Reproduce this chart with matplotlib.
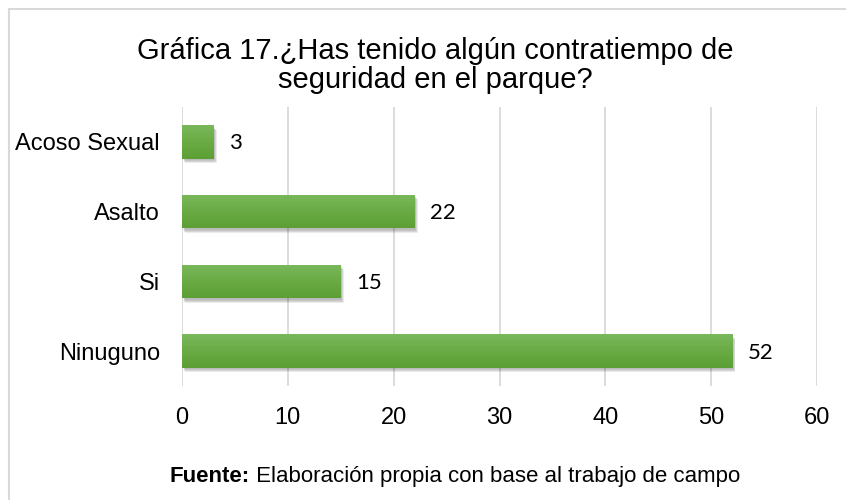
import matplotlib
matplotlib.use("Agg")
import matplotlib.pyplot as plt
import numpy as np
from matplotlib.patches import Rectangle
from matplotlib.colors import LinearSegmentedColormap
import matplotlib.transforms as mtransforms

categories = ["Ninuguno", "Si", "Asalto", "Acoso Sexual"]
values = [52, 15, 22, 3]
x_ticks = [0, 10, 20, 30, 40, 50, 60]

title_lines = ["Gráfica 17.¿Has tenido algún contratiempo de",
               "seguridad en el parque?"]
source_bold = "Fuente:"
source_rest = " Elaboración propia con base al trabajo de campo"

plt.rcParams["font.family"] = ["Liberation Sans", "DejaVu Sans"]

W, H = 846, 500
fig = plt.figure(figsize=(W / 100, H / 100), dpi=100)
fig.patch.set_facecolor("white")

# outer chart frame
fig.add_artist(Rectangle((9 / W, -0.1), 1.2, (H - 9) / H + 0.1,
                         transform=fig.transFigure, fill=False,
                         edgecolor="#d9d9d9", linewidth=1.5))

ax = fig.add_axes([182 / W, 1 - 386 / H, (817 - 182) / W, (386 - 107) / H])

for s in ax.spines.values():
    s.set_visible(False)
ax.set_xticks(x_ticks)
ax.set_yticks(range(len(categories)))
ax.set_yticklabels(categories, fontsize=17)
ax.set_xticklabels([str(t) for t in x_ticks], fontsize=17)
ax.tick_params(axis="both", length=0, colors="black")
ax.tick_params(axis="x", pad=15)
ax.tick_params(axis="y", pad=16)
ax.grid(axis="x", color="#d9d9d9", linewidth=1.3)
ax.set_axisbelow(True)

bar_h = 0.48
green = LinearSegmentedColormap.from_list("g", ["#5c9f34", "#6aab45", "#7ab85b"])
grad = np.linspace(0, 1, 64).reshape(-1, 1)

# soft drop shadow under each bar
for k, a in enumerate([0.05, 0.07, 0.09, 0.08]):
    off = mtransforms.offset_copy(ax.transData, fig=fig, x=1 + k * 0.6,
                                  y=-1.5 - k, units="dots")
    ax.barh(range(len(categories)), values, height=bar_h, color="black",
            alpha=a, transform=off, zorder=2, linewidth=0)

bars = ax.barh(range(len(categories)), values, height=bar_h, color="#6aab45",
               zorder=3, linewidth=0)
for b in bars:
    x0, y0 = b.get_x(), b.get_y()
    w, h = b.get_width(), b.get_height()
    im = ax.imshow(grad, cmap=green, aspect="auto", origin="lower",
                   extent=(x0, x0 + w, y0, y0 + h), zorder=4)
    im.set_clip_path(b)

ax.set_xlim(0, 60)
ax.set_ylim(-0.5, len(categories) - 0.5)

for i, v in enumerate(values):
    ax.annotate(str(v), (v, i), xytext=(11, -1), textcoords="offset points",
                ha="left", va="center", fontsize=16, family=["Lato", "DejaVu Sans"])

# two-line title, tight line spacing
for line, base in zip(title_lines, [59, 88]):
    fig.text(435 / W, 1 - base / H, line, ha="center", va="baseline", fontsize=21)

# source line: bold label followed by regular text, centred as a whole
src_fs = 16
t1 = fig.text(0, 1 - 482 / H, source_bold, ha="left", va="baseline",
              fontsize=src_fs, fontweight="bold")
t2 = fig.text(0, 1 - 482 / H, source_rest, ha="left", va="baseline", fontsize=src_fs)
fig.canvas.draw()
r = fig.canvas.get_renderer()
w1 = t1.get_window_extent(r).width
w2 = t2.get_window_extent(r).width
start = 455 - (w1 + w2) / 2
t1.set_x(start / W)
t2.set_x((start + w1) / W)

fig.savefig("out.png", dpi=100, facecolor="white")
